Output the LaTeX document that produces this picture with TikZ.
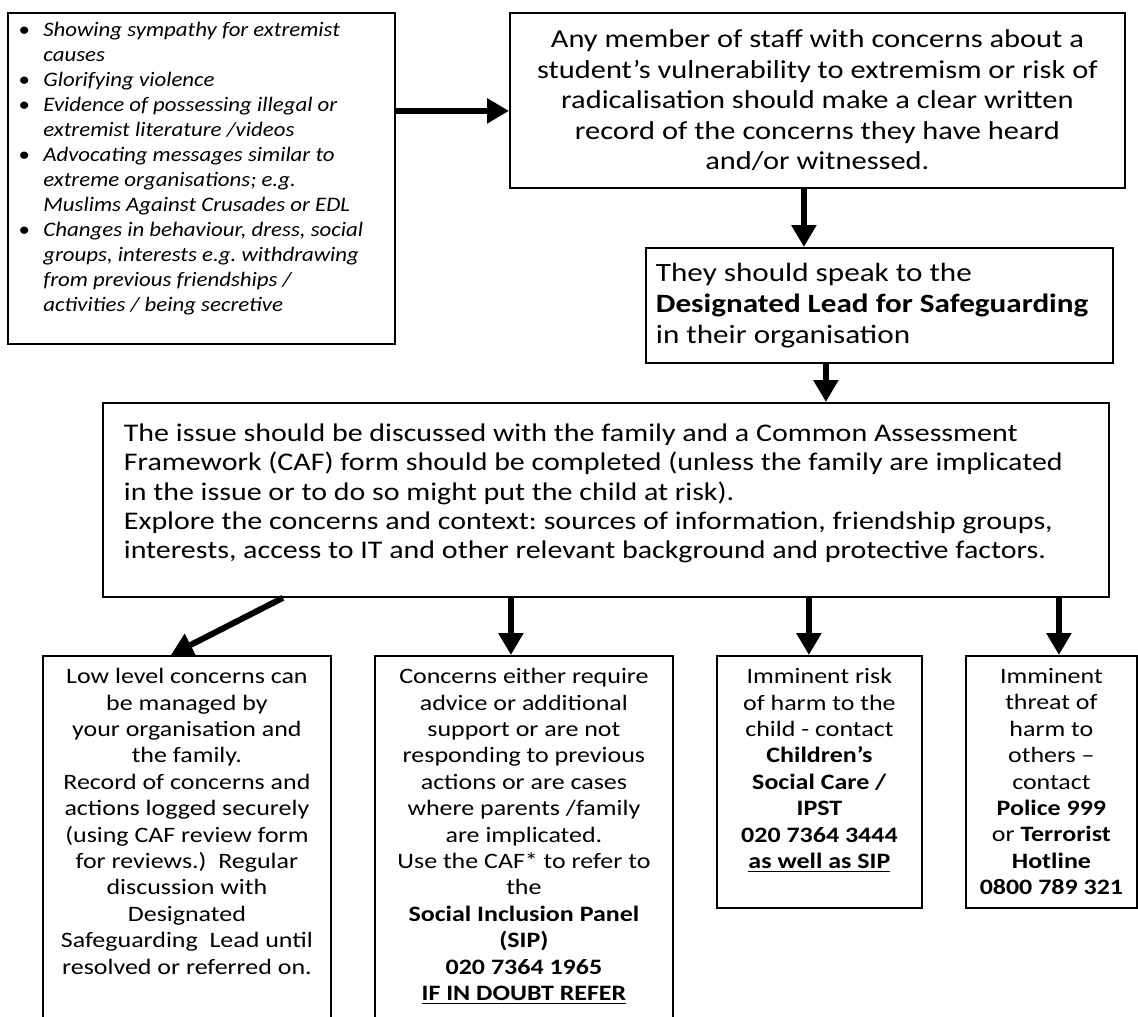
\documentclass[tikz,border=0pt]{standalone}
\usepackage{fontspec}
\setmainfont{Carlito}[FakeStretch=1.18]
\newfontfamily\signfont{Carlito}[FakeStretch=1.11]
\usetikzlibrary{arrows.meta,positioning}
\newcommand{\sign}{\textbullet}
\frenchspacing

\tikzset{
  panel/.style={draw, line width=0.9pt, inner sep=0pt, anchor=north west},
  flow/.style={line width=3pt, -{Triangle[length=11pt,width=12pt]}},
  cue/.style={anchor=north, align=center, inner sep=0pt, font=\fontsize{11}{13.2}\selectfont},
}

\begin{document}
\begin{tikzpicture}[x=0.5pt,y=-0.5pt]
\useasboundingbox (0,0) rectangle (1138,1016);
\clip (0,0) rectangle (1138,1016);
% top row
\node[panel, minimum width=193.5pt, minimum height=165.5pt] (signs) at (7,12) {};
\node[anchor=north west, inner sep=0pt, font=\signfont\itshape\fontsize{10.3}{12.5}\selectfont] (signlist) at (18,19)
  {\begin{tabular}{@{}p{12.5pt}@{}l@{}}
   \sign & Showing sympathy for extremist\\
         & causes\\
   \sign & Glorifying violence\\
   \sign & Evidence of possessing illegal or\\
         & extremist literature /videos\\
   \sign & Advocating messages similar to\\
         & extreme organisations; e.g.\\
         & Muslims Against Crusades or EDL\\
   \sign & Changes in behaviour, dress, social\\
         & groups, interests e.g. withdrawing\\
         & from previous friendships /\\
         & activities / being secretive
   \end{tabular}};
\node[panel, minimum width=307.5pt, minimum height=87.5pt, align=center,
  font=\fontsize{12.9}{15.25}\selectfont] (staff) at (509,12)
  {Any member of staff with concerns about a\\
   student’s vulnerability to extremism or risk of\\
   radicalisation should make a clear written\\
   record of the concerns they have heard\\
   and/or witnessed.};
\draw[flow] ([yshift=-5.25pt]signs.east |- staff.west) -- ([yshift=-5.25pt]staff.west);
% middle
\node[panel, inner xsep=5pt, text width=223.5pt, minimum height=57.5pt, align=flush left,
  font=\fontsize{13.2}{15.5}\selectfont] (lead) at (645,247)
  {They should speak to the\\
   \textbf{Designated Lead for Safeguarding}\\
   in their organisation};
\draw[flow] ([xshift=-6.75pt]staff.south) -- ([xshift=-6.75pt]staff.south |- lead.north);
\node[panel, inner xsep=10.5pt, text width=482pt, minimum height=97pt, align=flush left,
  font=\fontsize{12.7}{14.6}\selectfont] (issue) at (102,402)
  {The issue should be discussed with the family and a Common Assessment\\
   Framework (CAF) form should be completed (unless the family are implicated\\
   in the issue or to do so might put the child at risk).\\
   Explore the concerns and context: sources of information, friendship groups,\\
   interests, access to IT and other relevant background and protective factors.\\[-6pt]\mbox{}};
\draw[flow] ([xshift=-26.75pt]lead.south) -- ([xshift=-26.75pt]lead.south |- issue.north);
% outcomes
\node[panel, minimum width=144pt, minimum height=187.5pt] (low) at (42,655) {};
\node[panel, minimum width=149pt, minimum height=187.5pt] (refer) at (374,655) {};
\node[panel, minimum width=102.5pt, minimum height=126pt] (harm) at (716,655) {};
\node[panel, minimum width=85.5pt, minimum height=126pt] (threat) at (965,655) {};
\node[cue, below=6.5pt of low.north] (lowtext)
  {Low level concerns can\\ be managed by\\ your organisation and\\ the family.\\
   Record of concerns and\\ actions logged securely\\ (using CAF review form\\
   for reviews.)\ \ Regular\\ discussion with\\ Designated\\
   Safeguarding\ \ Lead until\\ resolved or referred on.};
\node[cue, below=6.5pt of refer.north] (refertext)
  {Concerns either require\\ advice or additional\\ support or are not\\
   responding to previous\\ actions or are cases\\ where parents /family\\
   are implicated.\\ Use the CAF* to refer to\\ the\\
   \textbf{Social Inclusion Panel}\\ \textbf{(SIP)}\\ \textbf{020 7364 1965}\\
   \underline{\textbf{IF IN DOUBT REFER}}};
\node[cue, below=6.5pt of harm.north] (harmtext)
  {Imminent risk\\ of harm to the\\ child - contact\\ \textbf{Children’s}\\
   \textbf{Social Care /}\\ \textbf{IPST}\\ \textbf{020 7364 3444}\\
   \underline{\textbf{as well as SIP}}};
\node[cue, below=6.5pt of threat.north] (threattext)
  {Imminent\\ threat of\\ harm to\\ others --\\ contact\\ \textbf{Police 999}\\
   or \textbf{Terrorist}\\ \textbf{Hotline}\\ \textbf{0800 789 321}};
\draw[flow] ([xshift=90.5pt]issue.south west) -- ([xshift=-8pt]low.north);
\draw[flow] ([xshift=-6.5pt]refer.north |- issue.south) -- ([xshift=-6.5pt]refer.north);
\draw[flow] ([xshift=-5.25pt]harm.north |- issue.south) -- ([xshift=-5.25pt]harm.north);
\draw[flow] ([xshift=3.75pt]threat.north |- issue.south) -- ([xshift=3.75pt]threat.north);
\end{tikzpicture}
\end{document}
